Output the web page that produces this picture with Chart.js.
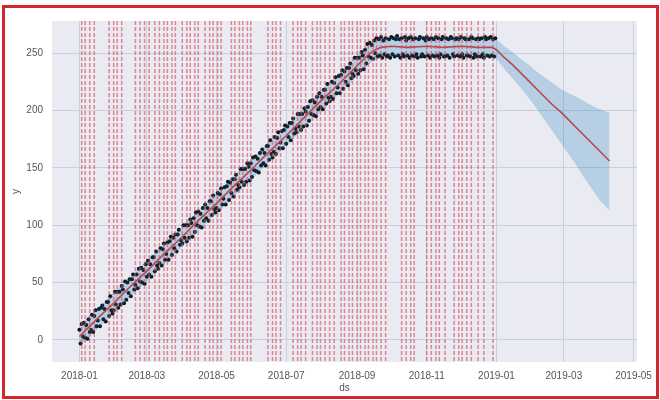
<!DOCTYPE html>
<html><head><meta charset="utf-8">
<script src="https://cdn.jsdelivr.net/npm/chart.js@4/dist/chart.umd.min.js"></script>
<style>
html,body{margin:0;padding:0;background:#fff;}
#wrap{position:relative;width:660px;height:400px;overflow:hidden;}
#frame{position:absolute;left:2px;top:5px;width:651px;height:388px;border:3px solid #d3262b;pointer-events:none;}
</style></head><body>
<div id="wrap"><canvas id="c" width="660" height="400"></canvas><div id="frame"></div></div>
<script>
// ---- data ----
const obsStart = '2018-01-01'; // daily observations, one value per day
const obsValues = [
 9,-3,14,3,15,2,13,1,18,7,
 9,22,7,21,26,12,17,27,12,28,
 30,18,27,16,33,33,21,38,26,23,
 26,42,31,42,28,42,31,47,44,32,
 51,35,50,41,53,38,53,57,44,48,
 57,45,62,51,63,50,61,49,66,55,
 69,57,66,55,72,72,60,77,65,62,
 67,80,65,79,84,70,75,85,70,86,
 90,74,89,80,92,77,92,96,83,87,
 84,100,89,100,86,100,89,105,102,90,
 106,94,111,100,112,99,110,98,115,104,
 118,106,115,104,121,121,109,126,114,111,
 115,128,113,127,132,118,123,133,118,134,
 138,122,137,128,140,125,140,144,131,135,
 133,149,138,149,135,149,138,154,151,139,
 154,142,159,148,160,147,158,146,163,152,
 166,154,163,152,169,169,157,174,162,159,
 164,177,162,176,181,167,172,182,167,183,
 187,171,186,177,189,174,189,193,180,184,
 181,197,186,197,183,197,186,202,199,187,
 203,191,208,197,209,196,207,195,212,201,
 215,203,212,201,218,218,206,223,211,208,
 212,225,210,224,229,215,220,230,215,231,
 235,219,234,225,237,222,237,241,228,232,
 230,246,235,246,232,246,235,251,248,236,
 253,241,258,247,259,246,257,245,261,250,
 263,247,262,248,264,246,261,249,263,247,
 248,262,246,264,249,263,247,262,265,248,
 262,246,263,249,247,264,261,248,263,246,
 264,248,262,247,263,249,246,262,264,247,
 249,263,247,261,264,248,262,246,263,248,
 262,247,264,248,263,246,249,262,264,247,
 247,263,248,262,246,264,263,249,247,262,
 263,248,262,247,264,249,246,263,262,248,
 248,262,247,264,263,246,249,262,247,263,
 262,247,263,249,246,264,262,248,263,247,
 264,248,262,247,263
];
// trend / forecast with uncertainty interval
const fcDates = ['2018-01-01','2018-01-16','2018-02-01','2018-02-15','2018-03-01','2018-03-15','2018-04-01','2018-04-15','2018-05-01','2018-05-15','2018-06-01','2018-06-15','2018-07-01','2018-07-15','2018-08-01','2018-08-15','2018-09-01','2018-09-08','2018-09-15','2018-09-22','2018-10-01','2018-10-15','2018-11-01','2018-11-15','2018-12-01','2018-12-15','2018-12-28','2019-01-01','2019-01-08','2019-01-15','2019-01-22','2019-01-29','2019-02-05','2019-02-12','2019-02-19','2019-02-26','2019-03-05','2019-03-12','2019-03-19','2019-03-26','2019-04-02','2019-04-10'];
const fcTrend = [3,18,33,47,60,74,90,104,119,133,149,163,178,192,209,222,239,246,252,255,256,255,256,255,256,255,255,253,246,240,233,226,219,212,205,199,192,185,178,171,164,156];
const fcUpper = [12,27,42,56,69,83,99,113,128,142,158,172,187,201,218,231,248,255,261,264,265,264,265,264,265,264,264,262,256,251,245,240,234,229,224,219,215,212,208,204,201,198];
const fcLower = [-6,9,24,38,51,65,81,95,110,124,140,154,169,183,200,213,230,237,243,246,247,246,247,246,247,246,246,245,236,228,220,211,202,192,182,172,162,152,141,131,121,113];
const changepoints = ['2018-01-03','2018-01-06','2018-01-10','2018-01-14','2018-01-27','2018-01-31','2018-02-03','2018-02-07','2018-02-19','2018-02-23','2018-02-27','2018-03-03','2018-03-08','2018-03-12','2018-03-16','2018-03-19','2018-03-23','2018-03-26','2018-04-01','2018-04-05','2018-04-08','2018-04-12','2018-04-15','2018-04-21','2018-04-25','2018-04-28','2018-05-02','2018-05-05','2018-05-14','2018-05-17','2018-05-21','2018-05-24','2018-05-28','2018-05-31','2018-06-15','2018-06-19','2018-06-22','2018-06-26','2018-07-07','2018-07-11','2018-07-14','2018-07-18','2018-07-24','2018-07-28','2018-07-31','2018-08-04','2018-08-08','2018-08-12','2018-08-18','2018-08-21','2018-08-25','2018-08-28','2018-09-01','2018-09-04','2018-09-08','2018-09-11','2018-09-15','2018-09-18','2018-09-22','2018-09-26','2018-10-10','2018-10-14','2018-10-18','2018-10-21','2018-11-01','2018-11-05','2018-11-09','2018-11-12','2018-11-17','2018-11-25','2018-11-29','2018-12-02','2018-12-06','2018-12-10','2018-12-16','2018-12-21','2018-12-29'];
const xTickDates = ['2018-01-01','2018-03-01','2018-05-01','2018-07-01','2018-09-01','2018-11-01','2019-01-01','2019-03-01','2019-05-01'];
const xTickLabels = ['2018-01','2018-03','2018-05','2018-07','2018-09','2018-11','2019-01','2019-03','2019-05'];
const yTickValues = [0,50,100,150,200,250];
const xRange = ['2017-12-08','2019-05-04'];
const yRange = [-19.2, 278];

// ---- helpers ----
const origin = Date.UTC(2018,0,1);
const day = s => (Date.UTC(+s.slice(0,4), +s.slice(5,7)-1, +s.slice(8,10)) - origin) / 86400000;
const s0 = day(obsStart);
const obsPts = obsValues.map((v,i) => ({x: s0 + i, y: v}));
const fcX = fcDates.map(day);
const trendPts = fcTrend.map((v,i) => ({x: fcX[i], y: v}));
const upperPts = fcUpper.map((v,i) => ({x: fcX[i], y: v}));
const lowerPts = fcLower.map((v,i) => ({x: fcX[i], y: v}));

const plotBg = {
  id: 'plotBg',
  beforeDraw(chart) {
    const {ctx, chartArea: a} = chart;
    ctx.save();
    ctx.fillStyle = '#eaeaf2';
    ctx.fillRect(a.left, a.top, a.right - a.left, a.bottom - a.top);
    ctx.restore();
  }
};
const cpLines = {
  id: 'cpLines',
  afterDatasetsDraw(chart) {
    const {ctx, chartArea: a, scales: {x}} = chart;
    ctx.save();
    ctx.beginPath(); ctx.rect(a.left, a.top, a.right - a.left, a.bottom - a.top); ctx.clip();
    ctx.strokeStyle = 'rgba(214,72,84,0.62)';
    ctx.lineWidth = 1.5;
    ctx.setLineDash([4, 2]);
    for (const d of changepoints) {
      const px = x.getPixelForValue(day(d));
      ctx.beginPath(); ctx.moveTo(px, a.top); ctx.lineTo(px, a.bottom); ctx.stroke();
    }
    ctx.restore();
  }
};

const tickFont = {family: "'Liberation Sans', Arial, sans-serif", size: 10};
const gridColor = 'rgba(200,203,220,0.9)';

new Chart(document.getElementById('c'), {
  type: 'scatter',
  data: {
    datasets: [
      {label: 'upper', data: upperPts, showLine: true, borderWidth: 0, pointRadius: 0, fill: '+1', backgroundColor: 'rgba(0,114,178,0.22)', borderColor: 'rgba(0,0,0,0)', order: 2},
      {label: 'lower', data: lowerPts, showLine: true, borderWidth: 0, pointRadius: 0, fill: false, borderColor: 'rgba(0,0,0,0)', order: 2},
      {label: 'y', data: obsPts, showLine: false, pointRadius: 2, pointBorderWidth: 0, backgroundColor: '#111', borderColor: '#111', order: 3},
      {label: 'trend', data: trendPts, showLine: true, borderWidth: 1.6, pointRadius: 0, borderColor: '#b8474f', fill: false, order: 1}
    ]
  },
  options: {
    responsive: false,
    animation: false,
    layout: {padding: {top: 21, right: 18, bottom: 0, left: 0}},
    plugins: {legend: {display: false}, tooltip: {enabled: false}},
    scales: {
      x: {
        type: 'linear', min: day(xRange[0]), max: day(xRange[1]),
        afterBuildTicks: s => { s.ticks = xTickDates.map(d => ({value: day(d)})); },
        afterFit: s => { s.height = 38; },
        ticks: {font: tickFont, color: '#555', padding: 8, maxRotation: 0, autoSkip: false,
          callback: (v, i) => xTickLabels[i]},
        grid: {color: gridColor, lineWidth: 1, drawTicks: false},
        border: {display: false},
        title: {display: true, text: 'ds', font: tickFont, color: '#555', padding: {top: 0, bottom: 6}}
      },
      y: {
        type: 'linear', min: yRange[0], max: yRange[1],
        afterBuildTicks: s => { s.ticks = yTickValues.map(v => ({value: v})); },
        afterFit: s => { s.width = 52; },
        ticks: {font: tickFont, color: '#555', padding: 9, callback: v => String(v)},
        grid: {color: gridColor, lineWidth: 1, drawTicks: false},
        border: {display: false},
        title: {display: true, text: 'y', font: tickFont, color: '#555', padding: {top: 10, bottom: 0}}
      }
    }
  },
  plugins: [plotBg, cpLines]
});
</script>
</body></html>
